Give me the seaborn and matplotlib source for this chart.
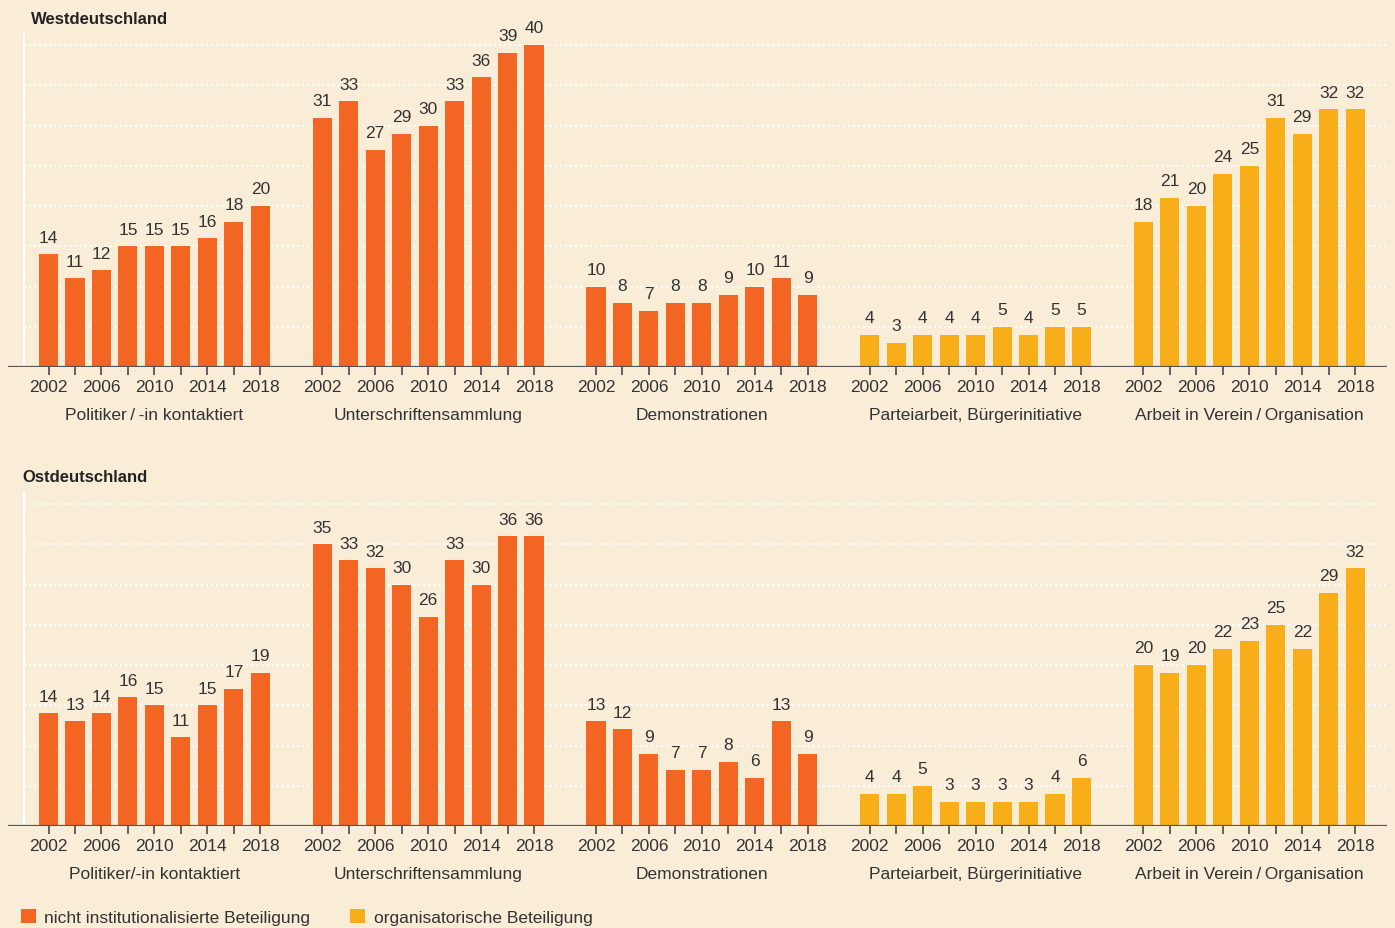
import numpy as np
import pandas as pd
import matplotlib
matplotlib.use('Agg')
import matplotlib.pyplot as plt
from matplotlib.patches import Patch
import seaborn as sns

# ---- data -------------------------------------------------------------
years = [2002, 2004, 2006, 2008, 2010, 2012, 2014, 2016, 2018]
year_labels = ['2002', '', '2006', '', '2010', '', '2014', '', '2018']

kinds = ['nicht', 'nicht', 'nicht', 'org', 'org']

west_labels = ['Politiker\u2009/\u2009-in kontaktiert', 'Unterschriftensammlung', 'Demonstrationen',
               'Parteiarbeit, Bürgerinitiative', 'Arbeit in Verein\u2009/\u2009Organisation']
east_labels = ['Politiker/-in kontaktiert', 'Unterschriftensammlung', 'Demonstrationen',
               'Parteiarbeit, Bürgerinitiative', 'Arbeit in Verein\u2009/\u2009Organisation']

west_politiker = [14, 11, 12, 15, 15, 15, 16, 18, 20]
west_unterschrift = [31, 33, 27, 29, 30, 33, 36, 39, 40]
west_demo = [10, 8, 7, 8, 8, 9, 10, 11, 9]
west_partei = [4, 3, 4, 4, 4, 5, 4, 5, 5]
west_verein = [18, 21, 20, 24, 25, 31, 29, 32, 32]

east_politiker = [14, 13, 14, 16, 15, 11, 15, 17, 19]
east_unterschrift = [35, 33, 32, 30, 26, 33, 30, 36, 36]
east_demo = [13, 12, 9, 7, 7, 8, 6, 13, 9]
east_partei = [4, 4, 5, 3, 3, 3, 3, 4, 6]
east_verein = [20, 19, 20, 22, 23, 25, 22, 29, 32]

west = [west_politiker, west_unterschrift, west_demo, west_partei, west_verein]
east = [east_politiker, east_unterschrift, east_demo, east_partei, east_verein]

legend_labels = {'nicht': 'nicht institutionalisierte Beteiligung',
                 'org': 'organisatorische Beteiligung'}

# ---- style ------------------------------------------------------------
BG = '#F9EDD8'
ORANGE = '#F26522'
YELLOW = '#F8AE18'
TXT = '#333333'
AX = '#555555'
palette = {'nicht': ORANGE, 'org': YELLOW}
FS = 12.5

sns.set_theme(style='white')
plt.rcParams['font.family'] = ['Liberation Sans', 'DejaVu Sans']
plt.rcParams['text.color'] = TXT

GROUP_STEP = 10.34
W, H = 1395, 929


def build_frame(groups):
    rows = []
    for g, vals in enumerate(groups):
        for i, v in enumerate(vals):
            rows.append({'pos': g * GROUP_STEP + i, 'value': v, 'kind': kinds[g]})
    return pd.DataFrame(rows)


def draw_panel(ax, groups, cat_labels):
    df = build_frame(groups)
    ax.set_facecolor(BG)
    sns.barplot(data=df, x='pos', y='value', hue='kind', palette=palette,
                native_scale=True, dodge=False, width=0.72, errorbar=None,
                saturation=1, legend=False, ax=ax, zorder=3, linewidth=0)
    for c in ax.containers:
        ax.bar_label(c, fmt='%d', padding=7, fontsize=FS, color=TXT)

    xmin, xmax = -1.53, 50.56
    ax.set_xlim(xmin, xmax)
    ax.set_ylim(0, 41.5)

    # dotted white grid + white left line
    ax.hlines(np.arange(5, 41, 5), -0.94, xmax, colors='white',
              linestyles=(0, (1, 1.6)), linewidth=1.4, zorder=1)
    ax.vlines(-0.94, 0, 41.5, colors='white', linewidth=1.6, zorder=1)
    ax.axhline(0, color=AX, linewidth=1.6, zorder=4)

    for s in ax.spines.values():
        s.set_visible(False)
    ax.set_yticks([])
    ax.set_xticks(df['pos'])
    ax.set_xticklabels(year_labels * len(groups))
    ax.tick_params(axis='x', bottom=True, length=6, width=1.3, color=AX,
                   direction='out', pad=3, labelsize=FS, labelcolor=TXT)
    ax.set_xlabel('')
    ax.set_ylabel('')

    for g, lab in enumerate(cat_labels):
        ax.annotate(lab, xy=(g * GROUP_STEP + 4, 0), xycoords=('data', 'axes fraction'),
                    xytext=(0, -34), textcoords='offset points', ha='center', va='center',
                    fontsize=FS, color=TXT)


fig = plt.figure(figsize=(W / 100, H / 100), dpi=100, facecolor=BG)
ax_w = fig.add_axes([8 / W, 1 - 368 / H, 1379 / W, 334 / H])
ax_e = fig.add_axes([8 / W, 1 - 827 / H, 1379 / W, 334 / H])

draw_panel(ax_w, west, west_labels)
draw_panel(ax_e, east, east_labels)

fig.text(31 / W, 1 - 19 / H, 'Westdeutschland', fontsize=12, weight='bold',
         va='center', ha='left', color='#222222')
fig.text(22 / W, 1 - 478 / H, 'Ostdeutschland', fontsize=12, weight='bold',
         va='center', ha='left', color='#222222')

handles = [Patch(facecolor=palette[k], edgecolor='none', label=legend_labels[k])
           for k in ['nicht', 'org']]
fig.legend(handles=handles, loc='center left', bbox_to_anchor=(21 / W, 1 - 918 / H),
           ncol=2, frameon=False, fontsize=FS, handlelength=0.85, handleheight=0.85,
           handletextpad=0.5, columnspacing=2.3, borderpad=0, borderaxespad=0,
           labelcolor=TXT)

fig.savefig('out.png', dpi=100, facecolor=BG)
